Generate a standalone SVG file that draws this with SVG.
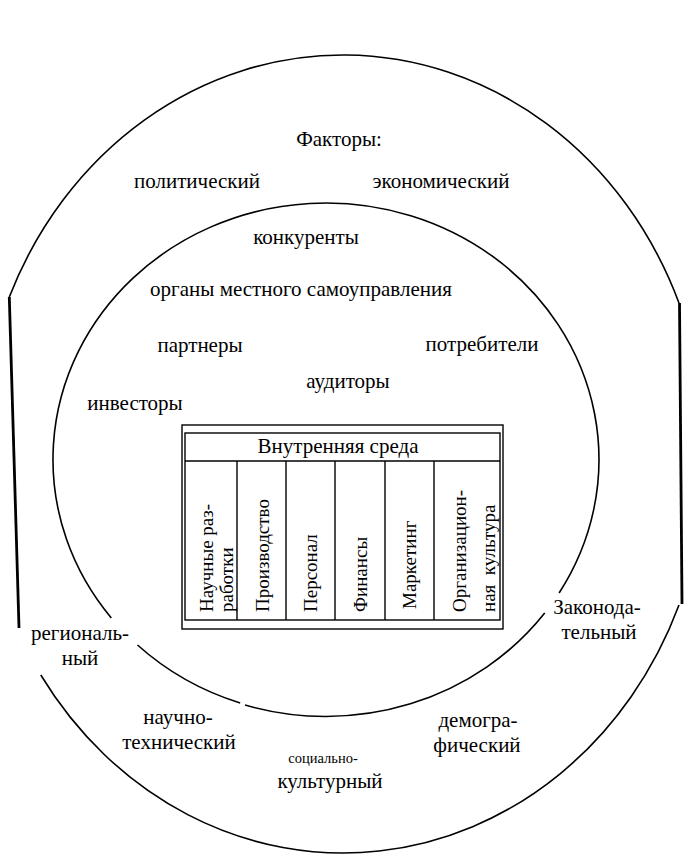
<svg xmlns="http://www.w3.org/2000/svg" width="697" height="863" viewBox="0 0 697 863">
<style>
.t{font-family:"Liberation Serif","Times New Roman",serif;font-size:21px;fill:#000;text-anchor:middle}
.s{font-size:14.5px}
.v{font-family:"Liberation Serif","Times New Roman",serif;font-size:19px;fill:#000;text-anchor:start}
.arc{fill:none;stroke:#000;stroke-width:1.6}
.side{fill:none;stroke:#000;stroke-width:2.8}
.tb{fill:none;stroke:#000;stroke-width:1.4}
</style>
<rect width="697" height="863" fill="#fff"/>
<g id="connectors">
<path class="arc" d="M 40.8 675 A 363 399 0 0 0 679 605"/>
<path class="arc" d="M 679 303 A 363 399 0 0 0 9.3 297"/>
<path class="side" d="M 679.5 303 L 682 604"/>
<path class="side" d="M 9.3 297 L 19 628"/>
<path class="arc" d="M 559.1 593 A 273 256.5 0 1 0 111.3 618"/>
<path class="arc" d="M 137.5 645 A 273 256.5 0 0 0 240.2 703"/>
<path class="arc" d="M 245 705 A 273 256.5 0 0 0 544.7 613"/>
</g>
<g id="outer-labels">
<text class="t" x="339" y="146">Факторы:</text>
<text class="t" x="197" y="188">политический</text>
<text class="t" x="441" y="188">экономический</text>
<text class="t" x="80" y="640">региональ-</text>
<text class="t" x="80" y="665">ный</text>
<text class="t" x="597" y="614">Законода-</text>
<text class="t" x="599" y="639">тельный</text>
<text class="t" x="178" y="724">научно-</text>
<text class="t" x="179" y="749">технический</text>
<text class="t s" x="323" y="763">социально-</text>
<text class="t" x="330" y="788">культурный</text>
<text class="t" x="478" y="727">демогра-</text>
<text class="t" x="477" y="752">фический</text>
</g>
<g id="inner-labels">
<text class="t" x="306" y="244">конкуренты</text>
<text class="t" x="301" y="296">органы местного самоуправления</text>
<text class="t" x="200" y="352">партнеры</text>
<text class="t" x="482" y="351">потребители</text>
<text class="t" x="348" y="388">аудиторы</text>
<text class="t" x="135" y="410">инвесторы</text>
</g>
<g id="internal-table">
<rect class="tb" x="182" y="425" width="321" height="204"/>
<rect class="tb" x="185" y="433" width="315" height="187"/>
<line class="tb" x1="185" y1="461" x2="500" y2="461"/>
<line class="tb" x1="237" y1="461" x2="237" y2="620"/>
<line class="tb" x1="286" y1="461" x2="286" y2="620"/>
<line class="tb" x1="335" y1="461" x2="335" y2="620"/>
<line class="tb" x1="385" y1="461" x2="385" y2="620"/>
<line class="tb" x1="434" y1="461" x2="434" y2="620"/>
<text class="t" x="338" y="453">Внутренняя среда</text>
<text class="v" transform="translate(213,612) rotate(-90)">Научные раз-</text>
<text class="v" transform="translate(233,612) rotate(-90)">работки</text>
<text class="v" transform="translate(269,612) rotate(-90)">Производство</text>
<text class="v" transform="translate(317,612) rotate(-90)">Персонал</text>
<text class="v" transform="translate(367,612) rotate(-90)">Финансы</text>
<text class="v" transform="translate(416,609) rotate(-90)">Маркетинг</text>
<text class="v" transform="translate(466,612) rotate(-90)">Организацион-</text>
<text class="v" transform="translate(495,612) rotate(-90)">ная&#160;&#160;культура</text>
</g>
</svg>
